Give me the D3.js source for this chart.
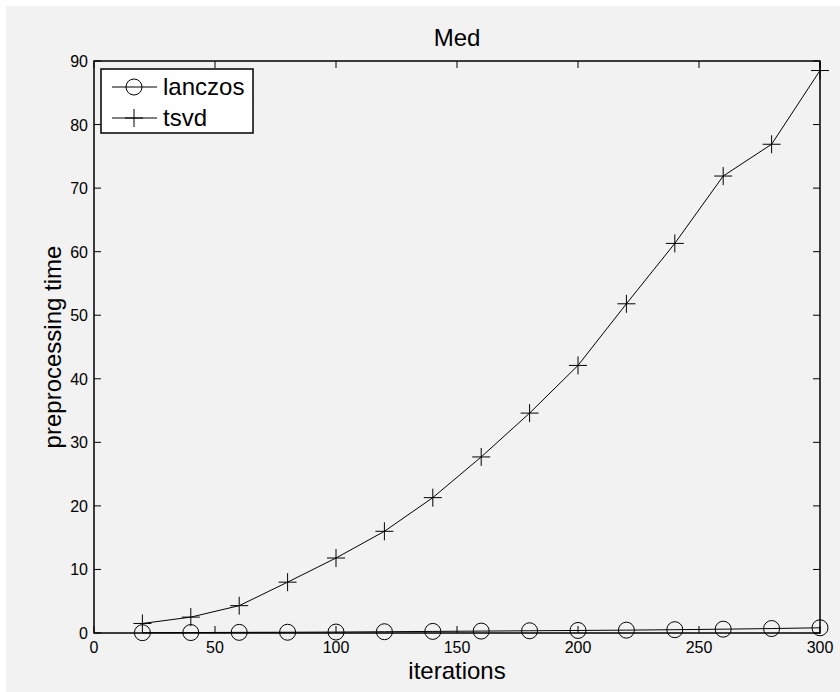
<!DOCTYPE html>
<html><head><meta charset="utf-8">
<script src="https://cdn.jsdelivr.net/npm/d3@7"></script>
<style>body{margin:0;background:#fff}svg{display:block}</style>
</head><body>
<script>
const iterations = [20,40,60,80,100,120,140,160,180,200,220,240,260,280,300];
const lanczos = [0.05,0.07,0.1,0.12,0.15,0.2,0.25,0.3,0.35,0.4,0.45,0.52,0.6,0.7,0.82];
const tsvd = [1.5,2.5,4.3,8.0,11.8,16.0,21.3,27.7,34.6,42.1,51.8,61.3,71.9,76.9,88.5];
const xTicks = [0,50,100,150,200,250,300];
const yTicks = [0,10,20,30,40,50,60,70,80,90];
const title = "Med", xLabel = "iterations", yLabel = "preprocessing time";
const seriesNames = ["lanczos","tsvd"];

const W = 840, H = 692;
const L = 94, R = 820, T = 61, B = 633;
const font = "'Liberation Sans', Arial, Helvetica, sans-serif";
const svg = d3.select("body").append("svg").attr("width", W).attr("height", H);
svg.append("rect").attr("x",6).attr("y",6).attr("width",W-6).attr("height",H-6).attr("fill","#f2f2f2");

const x = d3.scaleLinear().domain([0,300]).range([L,R]);
const y = d3.scaleLinear().domain([0,90]).range([B,T]);

// lines
const line = d3.line().x((d,i)=>x(iterations[i])).y(d=>y(d));
svg.append("path").datum(lanczos).attr("d",line).attr("fill","none").attr("stroke","#000").attr("stroke-width",1);
svg.append("path").datum(tsvd).attr("d",line).attr("fill","none").attr("stroke","#000").attr("stroke-width",1);

// markers
svg.selectAll("circle.l").data(lanczos).enter().append("circle")
  .attr("cx",(d,i)=>x(iterations[i])).attr("cy",d=>y(d)).attr("r",8)
  .attr("fill","none").attr("stroke","#000").attr("stroke-width",1);
const plus = (g, cx, cy, s) => {
  g.append("line").attr("x1",cx-s).attr("x2",cx+s).attr("y1",cy).attr("y2",cy).attr("stroke","#000");
  g.append("line").attr("x1",cx).attr("x2",cx).attr("y1",cy-s).attr("y2",cy+s).attr("stroke","#000");
};
const pg = svg.append("g");
tsvd.forEach((d,i)=>plus(pg, x(iterations[i]), y(d), 9));

// axes box
const axG = svg.append("g").attr("stroke","#000").attr("stroke-width",1.5);
axG.append("rect").attr("x",L).attr("y",T).attr("width",R-L).attr("height",B-T).attr("fill","none");
const tk = 7;
xTicks.forEach(t=>{
  axG.append("line").attr("x1",x(t)).attr("x2",x(t)).attr("y1",B).attr("y2",B-tk).attr("stroke-width",1);
  axG.append("line").attr("x1",x(t)).attr("x2",x(t)).attr("y1",T).attr("y2",T+tk).attr("stroke-width",1);
});
yTicks.forEach(t=>{
  axG.append("line").attr("x1",L).attr("x2",L+tk).attr("y1",y(t)).attr("y2",y(t)).attr("stroke-width",1);
  axG.append("line").attr("x1",R).attr("x2",R-tk).attr("y1",y(t)).attr("y2",y(t)).attr("stroke-width",1);
});
const tg = svg.append("g").attr("font-family",font).attr("font-size",16).attr("fill","#000");
xTicks.forEach(t=>tg.append("text").attr("x",x(t)).attr("y",B+20).attr("text-anchor","middle").text(t));
yTicks.forEach(t=>tg.append("text").attr("x",L-6).attr("y",y(t)+6).attr("text-anchor","end").text(t));

svg.append("text").attr("x",(L+R)/2).attr("y",46).attr("text-anchor","middle")
  .attr("font-family",font).attr("font-size",24).text(title);
svg.append("text").attr("x",(L+R)/2).attr("y",679).attr("text-anchor","middle")
  .attr("font-family",font).attr("font-size",24).text(xLabel);
svg.append("text").attr("transform",`translate(61,${(T+B)/2}) rotate(-90)`).attr("text-anchor","middle")
  .attr("font-family",font).attr("font-size",24).text(yLabel);

// legend
const lg = svg.append("g");
lg.append("rect").attr("x",101).attr("y",69).attr("width",152).attr("height",64)
  .attr("fill","#fff").attr("stroke","#000").attr("stroke-width",1.5);
const rows = [87,118];
seriesNames.forEach((n,i)=>{
  const cy = rows[i];
  lg.append("line").attr("x1",112).attr("x2",157).attr("y1",cy).attr("y2",cy).attr("stroke","#000");
  if(i===0) lg.append("circle").attr("cx",134).attr("cy",cy).attr("r",8).attr("fill","none").attr("stroke","#000");
  else plus(lg,134,cy,9);
  lg.append("text").attr("x",163).attr("y",cy+8).attr("font-family",font).attr("font-size",24).text(n);
});
</script>
</body></html>
